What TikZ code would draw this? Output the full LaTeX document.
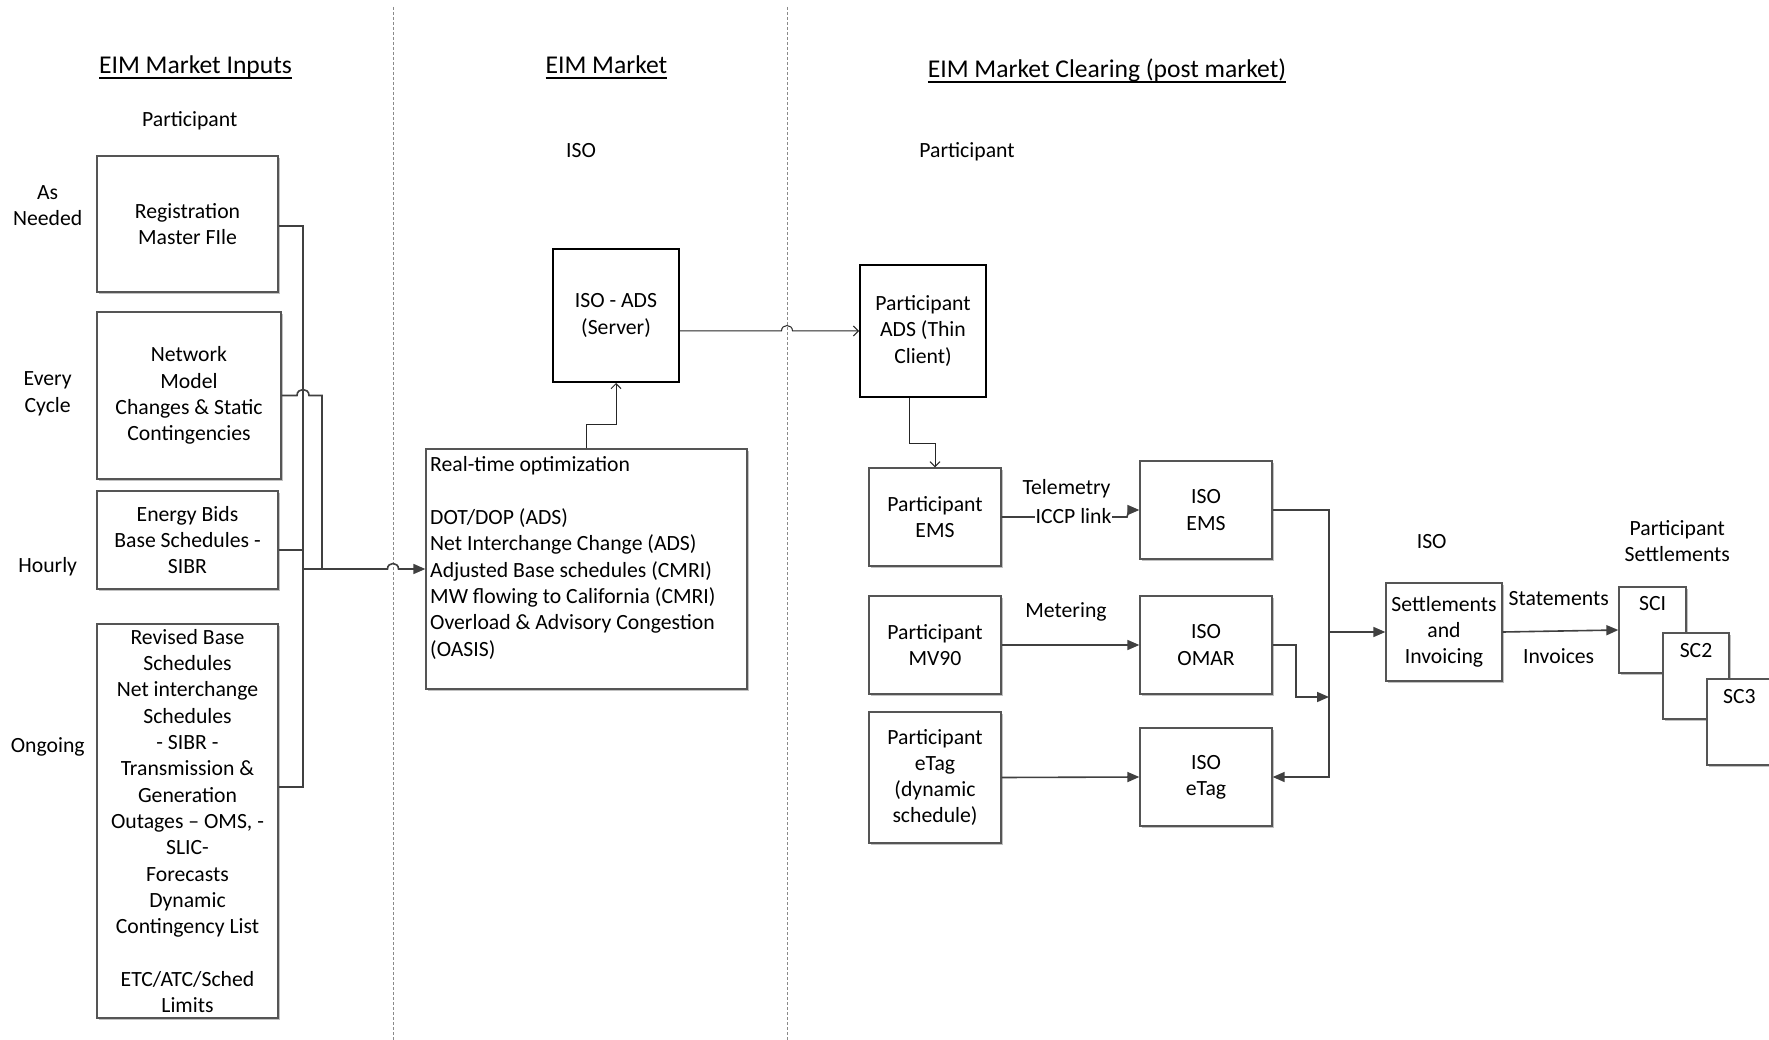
\documentclass[tikz,border=0pt]{standalone}
\usepackage{fontspec}
\setmainfont{Carlito}
\usetikzlibrary{arrows.meta,shadows,calc}
\definecolor{linec}{HTML}{404040}
\definecolor{boxc}{HTML}{555555}
\definecolor{sepc}{HTML}{8A8A8A}
\newcommand\myhdr[1]{\setbox0\hbox{#1}\rlap{\rule[-5.5pt]{\wd0}{2pt}}\box0}
\begin{document}
\begin{tikzpicture}[x=1pt,y=-1pt,
  font=\fontsize{21.7pt}{26.3pt}\selectfont,
  box/.style={rectangle, draw=boxc, line width=1.3pt, fill=white, inner sep=0pt, align=center,
    drop shadow={shadow xshift=2pt, shadow yshift=-2pt, fill=black!40, opacity=0.6}},
  tbox/.style={rectangle, draw=black, line width=2pt, fill=white, inner sep=0pt, align=center},
  lbl/.style={inner sep=0pt, align=center},
  hdr/.style={inner sep=0pt, font=\fontsize{25.6pt}{30pt}\selectfont},
  conn/.style={draw=linec, line width=1.6pt},
  farrow/.style={conn, -{Triangle[length=12pt,width=10pt]}},
  thin/.style={draw=black!85, line width=1pt},
  oarrow/.style={thin, -{Straight Barb[length=5pt,width=10pt]}},
  sep/.style={draw=sepc, line width=1pt, dash pattern=on 3pt off 2pt}
]
\path[use as bounding box] (0,0) rectangle (1769,1040);
\fill[white] (0,0) rectangle (1769,1040);
\clip (0,0) rectangle (1769,1040);

% separators
\coordinate (s1t) at (393,7); \coordinate (s1b) at (393,1040);
\coordinate (s2t) at (787,7); \coordinate (s2b) at (787,1040);
\draw[sep] (s1t) -- (s1b);
\draw[sep] (s2t) -- (s2b);

% headers
\node[hdr, anchor=base] (h1) at (195.5,73.3) {\myhdr{EIM Market Inputs}};
\node[hdr, anchor=base] (h2) at (606.4,73.3) {\myhdr{EIM Market}};
\node[hdr, anchor=base] (h3) at (1107,77.3) {\myhdr{EIM Market Clearing (post market)}};
\node[lbl, anchor=base] (p1) at (189.7,126.7) {Participant};
\node[lbl, anchor=base] (iso1) at (581,157.7) {ISO};
\node[lbl, anchor=base] (p2) at (967,157.7) {Participant};

% left labels
\node[lbl] (asn) at (47.7,205.3) {As\\Needed};
\node[lbl] (evc) at (47.7,393.7) {Every\\Cycle};
\node[lbl] (hrl) at (47.7,566.7) {Hourly};
\node[lbl] (ong) at (47.7,747) {Ongoing};

% input boxes
\node[box, minimum width=181, minimum height=136] (reg) at (187.5,224) {Registration\\Master FIle};
\node[box, minimum width=184, minimum height=167] (net) at (189,395.5) {Network\\Model\\Changes \& Static\\Contingencies};
\node[box, minimum width=181, minimum height=98] (en) at (187.5,540) {Energy Bids\\Base Schedules -\\SIBR};
\node[box, minimum width=181, minimum height=394] (rev) at (187.5,821) {Revised Base\\Schedules\\Net interchange\\Schedules\\- SIBR -\\Transmission \&\\Generation\\Outages – OMS, -\\SLIC-\\Forecasts\\Dynamic\\Contingency List\\\mbox{}\\ETC/ATC/Sched\\Limits};

% market
\node[box, minimum width=321, minimum height=240] (rt) at (586.5,569) {};
\node[lbl, anchor=west, align=left] (rttext) at (430,558) {Real-time optimization\\\mbox{}\\DOT/DOP (ADS)\\Net Interchange Change (ADS)\\Adjusted Base schedules (CMRI)\\MW flowing to California (CMRI)\\Overload \& Advisory Congestion\\(OASIS)};
\node[tbox, minimum width=126, minimum height=133] (iads) at (616,315.5) {ISO - ADS\\(Server)};

% clearing
\node[tbox, minimum width=126, minimum height=132] (pads) at (923,331) {Participant\\ADS (Thin\\Client)};
\node[box, minimum width=132, minimum height=98] (pems) at (935,517) {Participant\\EMS};
\node[box, minimum width=132, minimum height=98] (pmv) at (935,645) {Participant\\MV90};
\node[box, minimum width=132, minimum height=131] (petag) at (935,777.5) {Participant\\eTag\\(dynamic\\schedule)};
\node[box, minimum width=132, minimum height=98] (iems) at (1206,510) {ISO\\EMS};
\node[box, minimum width=132, minimum height=98] (omar) at (1206,645) {ISO\\OMAR};
\node[box, minimum width=132, minimum height=98] (ietag) at (1206,777) {ISO\\eTag};
\node[box, minimum width=116, minimum height=98] (settle) at (1444,632) {Settlements\\and\\Invoicing};

\node[lbl] (iso2) at (1431.7,541.7) {ISO};
\node[lbl] (pset) at (1677.3,540.8) {Participant\\Settlements};
\node[lbl] (stm) at (1558.7,598.3) {Statements};
\node[lbl] (inv) at (1558.7,656) {Invoices};
\node[lbl] (tel) at (1066.5,489.2) {Telemetry};
\node[lbl] (mtr) at (1066,611.6) {Metering};

\node[box, minimum width=67, minimum height=86] (sc1) at (1652.5,630) {};
\node[box, minimum width=66, minimum height=86] (sc2) at (1696,676) {};
\node[box, minimum width=83, minimum height=86] (sc3) at (1748.5,722) {};
\node[lbl] (sc1t) at (1652.7,604) {SCI};
\node[lbl] (sc2t) at (1696,650.7) {SC2};
\node[lbl] (sc3t) at (1739.3,696.7) {SC3};

% left bus
\coordinate (bx) at (303,569);
\draw[conn] (reg.east |- 0,226) -- (303,226) -- (303,787) -- (rev.east |- 0,787);
\draw[conn] (en.east |- 0,550) -- (303,550);
\draw[conn] (net.east) -- (297,395.5) .. controls (297,387.5) and (309,387.5) .. (309,395.5) -- (322,395.5) -- (322,569);
\draw[farrow] (bx) -- (387.5,569) .. controls (387.5,561.7) and (398.5,561.7) .. (398.5,569) -- (rt.west);

% market connectors
\draw[oarrow] (rt.north) -- (586.5,424) -- (616,424) -- (iads.south);
\draw[oarrow] (iads.east |- pads.west) -- (781.5,331) .. controls (781.5,323.7) and (792.5,323.7) .. (792.5,331) -- (pads.west);
\draw[oarrow] (909,0 |- pads.south) -- (909,443) -- (pems.north |- 0,443) -- (pems.north);

% clearing connectors
\draw[farrow] (pems.east) -- (1127,517) -- (1129,510) -- (iems.west);
\node[lbl, fill=white, inner xsep=1pt] (iccp) at (1073.5,516) {ICCP link};
\draw[farrow] (pmv.east) -- (omar.west);
\draw[farrow] (petag.east) -- (ietag.west);
\coordinate (rb) at (1329,632);
\draw[farrow] (iems.east) -- (1329,510) -- (1329,777) -- (ietag.east);
\draw[farrow] (omar.east) -- (1296,645) -- (1296,697) -- (1329,697);
\draw[farrow] (rb) -- (settle.west);
\draw[farrow] (settle.east) -- (sc1.west);
\end{tikzpicture}
\end{document}
